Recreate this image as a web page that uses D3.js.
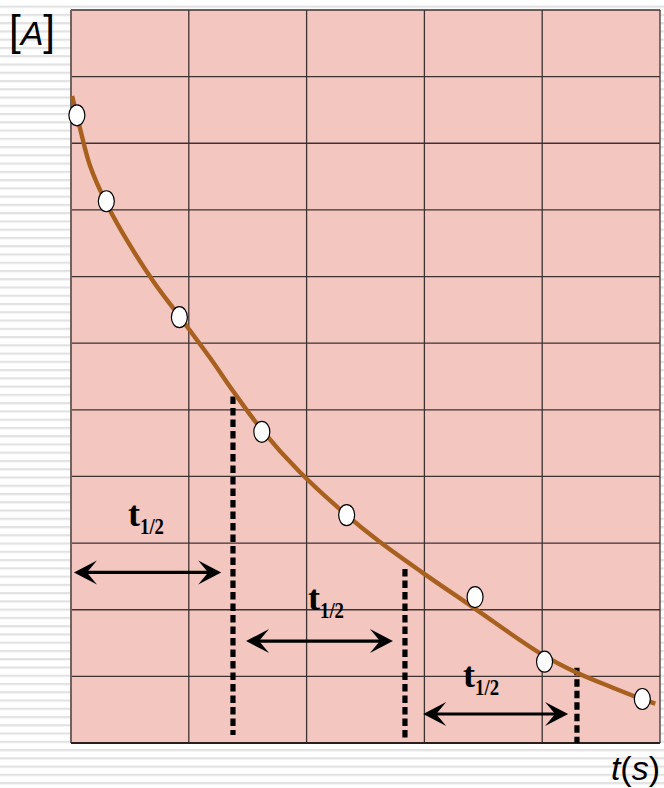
<!DOCTYPE html>
<html>
<head>
<meta charset="utf-8">
<script src="https://cdn.jsdelivr.net/npm/d3@7"></script>
<style>
  body { margin: 0; background: #fff; }
</style>
</head>
<body>
<div id="chart"></div>
<script>
// grid cells: 5 columns x 11 rows
var xTicks = [0, 1, 2, 3, 4, 5];
var yTicks = [0, 1, 2, 3, 4, 5, 6, 7, 8, 9, 10, 11];

// smooth decay curve (t, [A])
var curveT = [0.01, 0.08, 0.16, 0.30, 0.50, 0.71, 0.93, 1.18, 1.38, 1.62, 1.94, 2.34, 2.62, 2.99, 3.41, 3.98, 4.30, 4.60, 4.86, 4.96];
var curveA = [9.71, 9.20, 8.67, 8.10, 7.47, 6.90, 6.38, 5.78, 5.27, 4.70, 4.07, 3.42, 3.02, 2.55, 2.04, 1.35, 1.05, 0.83, 0.65, 0.59];

// measured points
var pointT = [0.05, 0.30, 0.92, 1.62, 2.34, 3.43, 4.02, 4.85];
var pointA = [9.42, 8.13, 6.39, 4.67, 3.42, 2.19, 1.22, 0.66];

// half-life markers: dashed verticals and double arrows
var halfT = [1.375, 2.835, 4.295];
var halfTop = [5.2, 2.61, 1.13];
var halfBottom = [0.12, 0.03, 0.0];
var arrowFrom = [0.025, 1.486, 2.99];
var arrowTo = [1.275, 2.733, 4.22];
var arrowA = [2.56, 1.53, 0.435];
var labelT = [0.484, 2.012, 3.328];
var labelA = [3.256, 1.996, 0.84];

var svgWidth = 664, svgHeight = 788;
var margin = { top: 10, right: 4, bottom: 45, left: 71 };
var chartWidth = svgWidth - margin.left - margin.right;
var chartHeight = svgHeight - margin.top - margin.bottom;

var svg = d3.select("#chart")
    .append("svg")
    .attr("width", svgWidth)
    .attr("height", svgHeight);

// striped background
var defs = svg.append("defs");
var pat = defs.append("pattern")
    .attr("id", "stripes")
    .attr("patternUnits", "userSpaceOnUse")
    .attr("width", 10)
    .attr("height", 8.26)
    .attr("y", 5.6);
pat.append("rect").attr("width", 10).attr("height", 8.26).attr("fill", "#ffffff");
pat.append("rect").attr("y", 0).attr("width", 10).attr("height", 2.2).attr("fill", "#e2e2e2");

svg.append("rect")
    .attr("width", svgWidth)
    .attr("height", svgHeight)
    .attr("fill", "url(#stripes)");

var xScale = d3.scaleLinear().domain([0, 5]).range([0, chartWidth]);
var yScale = d3.scaleLinear().domain([0, 11]).range([chartHeight, 0]);

var chartGroup = svg.append("g")
    .attr("transform", `translate(${margin.left}, ${margin.top})`);

chartGroup.append("rect")
    .attr("width", chartWidth)
    .attr("height", chartHeight)
    .attr("fill", "#f3c6c0");

// grid
chartGroup.selectAll(".vgrid")
    .data(xTicks)
    .enter()
    .append("line")
    .attr("x1", d => xScale(d))
    .attr("x2", d => xScale(d))
    .attr("y1", 0)
    .attr("y2", chartHeight)
    .attr("stroke", "#3d3232")
    .attr("stroke-width", 1.3);

chartGroup.selectAll(".hgrid")
    .data(yTicks)
    .enter()
    .append("line")
    .attr("x1", 0)
    .attr("x2", chartWidth)
    .attr("y1", d => yScale(d))
    .attr("y2", d => yScale(d))
    .attr("stroke", "#3d3232")
    .attr("stroke-width", 1.3);

// left and bottom borders
chartGroup.append("line")
    .attr("x1", 0).attr("x2", 0)
    .attr("y1", 0).attr("y2", chartHeight)
    .attr("stroke", "#6e6262").attr("stroke-width", 2);
chartGroup.append("line")
    .attr("x1", 0).attr("x2", chartWidth)
    .attr("y1", chartHeight).attr("y2", chartHeight)
    .attr("stroke", "#2a1f1f").attr("stroke-width", 2);

// dashed half-life lines
chartGroup.selectAll(".half")
    .data(halfT)
    .enter()
    .append("line")
    .attr("x1", d => xScale(d))
    .attr("x2", d => xScale(d))
    .attr("y1", (d, i) => yScale(halfTop[i]))
    .attr("y2", (d, i) => yScale(halfBottom[i]))
    .attr("stroke", "#000")
    .attr("stroke-width", 5.2)
    .attr("stroke-dasharray", "7.5,4");

// decay curve
var curveData = curveT.map((t, i) => [t, curveA[i]]);
var line = d3.line()
    .x(d => xScale(d[0]))
    .y(d => yScale(d[1]))
    .curve(d3.curveCatmullRom);

chartGroup.append("path")
    .datum(curveData)
    .attr("d", line)
    .attr("fill", "none")
    .attr("stroke", "#a8601f")
    .attr("stroke-width", 4.4);

// points
chartGroup.selectAll("ellipse")
    .data(pointT)
    .enter()
    .append("ellipse")
    .attr("cx", d => xScale(d))
    .attr("cy", (d, i) => yScale(pointA[i]))
    .attr("rx", 8)
    .attr("ry", 10.5)
    .attr("fill", "#fff")
    .attr("stroke", "#000")
    .attr("stroke-width", 1.2);

// double arrows
var head = "M0,0 L-23,-12 L-13,0 L-23,12 Z";
arrowFrom.forEach(function(a, i) {
    var x1 = xScale(a), x2 = xScale(arrowTo[i]), y = yScale(arrowA[i]);
    chartGroup.append("line")
        .attr("x1", x1 + 6).attr("x2", x2 - 6)
        .attr("y1", y).attr("y2", y)
        .attr("stroke", "#000")
        .attr("stroke-width", 3.2);
    chartGroup.append("path")
        .attr("d", head)
        .attr("transform", `translate(${x2}, ${y})`)
        .attr("fill", "#000");
    chartGroup.append("path")
        .attr("d", head)
        .attr("transform", `translate(${x1}, ${y}) rotate(180)`)
        .attr("fill", "#000");
});

// t1/2 labels
labelT.forEach(function(t, i) {
    var txt = chartGroup.append("text")
        .attr("x", xScale(t))
        .attr("y", yScale(labelA[i]))
        .attr("font-family", "'Liberation Serif', 'Times New Roman', serif")
        .attr("font-weight", "bold")
        .attr("font-size", 36)
        .attr("text-anchor", "start")
        .attr("fill", "#000");
    txt.append("tspan").text("t");
    txt.append("tspan")
        .attr("font-size", 24)
        .attr("dy", 8)
        .attr("textLength", 24)
        .attr("lengthAdjust", "spacingAndGlyphs")
        .text("1/2");
});

// axis titles
var yTitle = svg.append("text")
    .attr("x", 9)
    .attr("y", 45)
    .attr("font-family", "'Liberation Sans', Arial, sans-serif")
    .attr("font-size", 42)
    .attr("fill", "#000");
yTitle.append("tspan").text("[");
yTitle.append("tspan").attr("font-style", "italic").attr("font-size", 34).text("A");
yTitle.append("tspan").text("]");

var xTitle = svg.append("text")
    .attr("x", 660)
    .attr("y", 780)
    .attr("text-anchor", "end")
    .attr("font-family", "'Liberation Sans', Arial, sans-serif")
    .attr("font-size", 34)
    .attr("fill", "#000");
xTitle.append("tspan").attr("font-style", "italic").text("t");
xTitle.append("tspan").text("(");
xTitle.append("tspan").attr("font-style", "italic").text("s");
xTitle.append("tspan").text(")");
</script>
</body>
</html>
